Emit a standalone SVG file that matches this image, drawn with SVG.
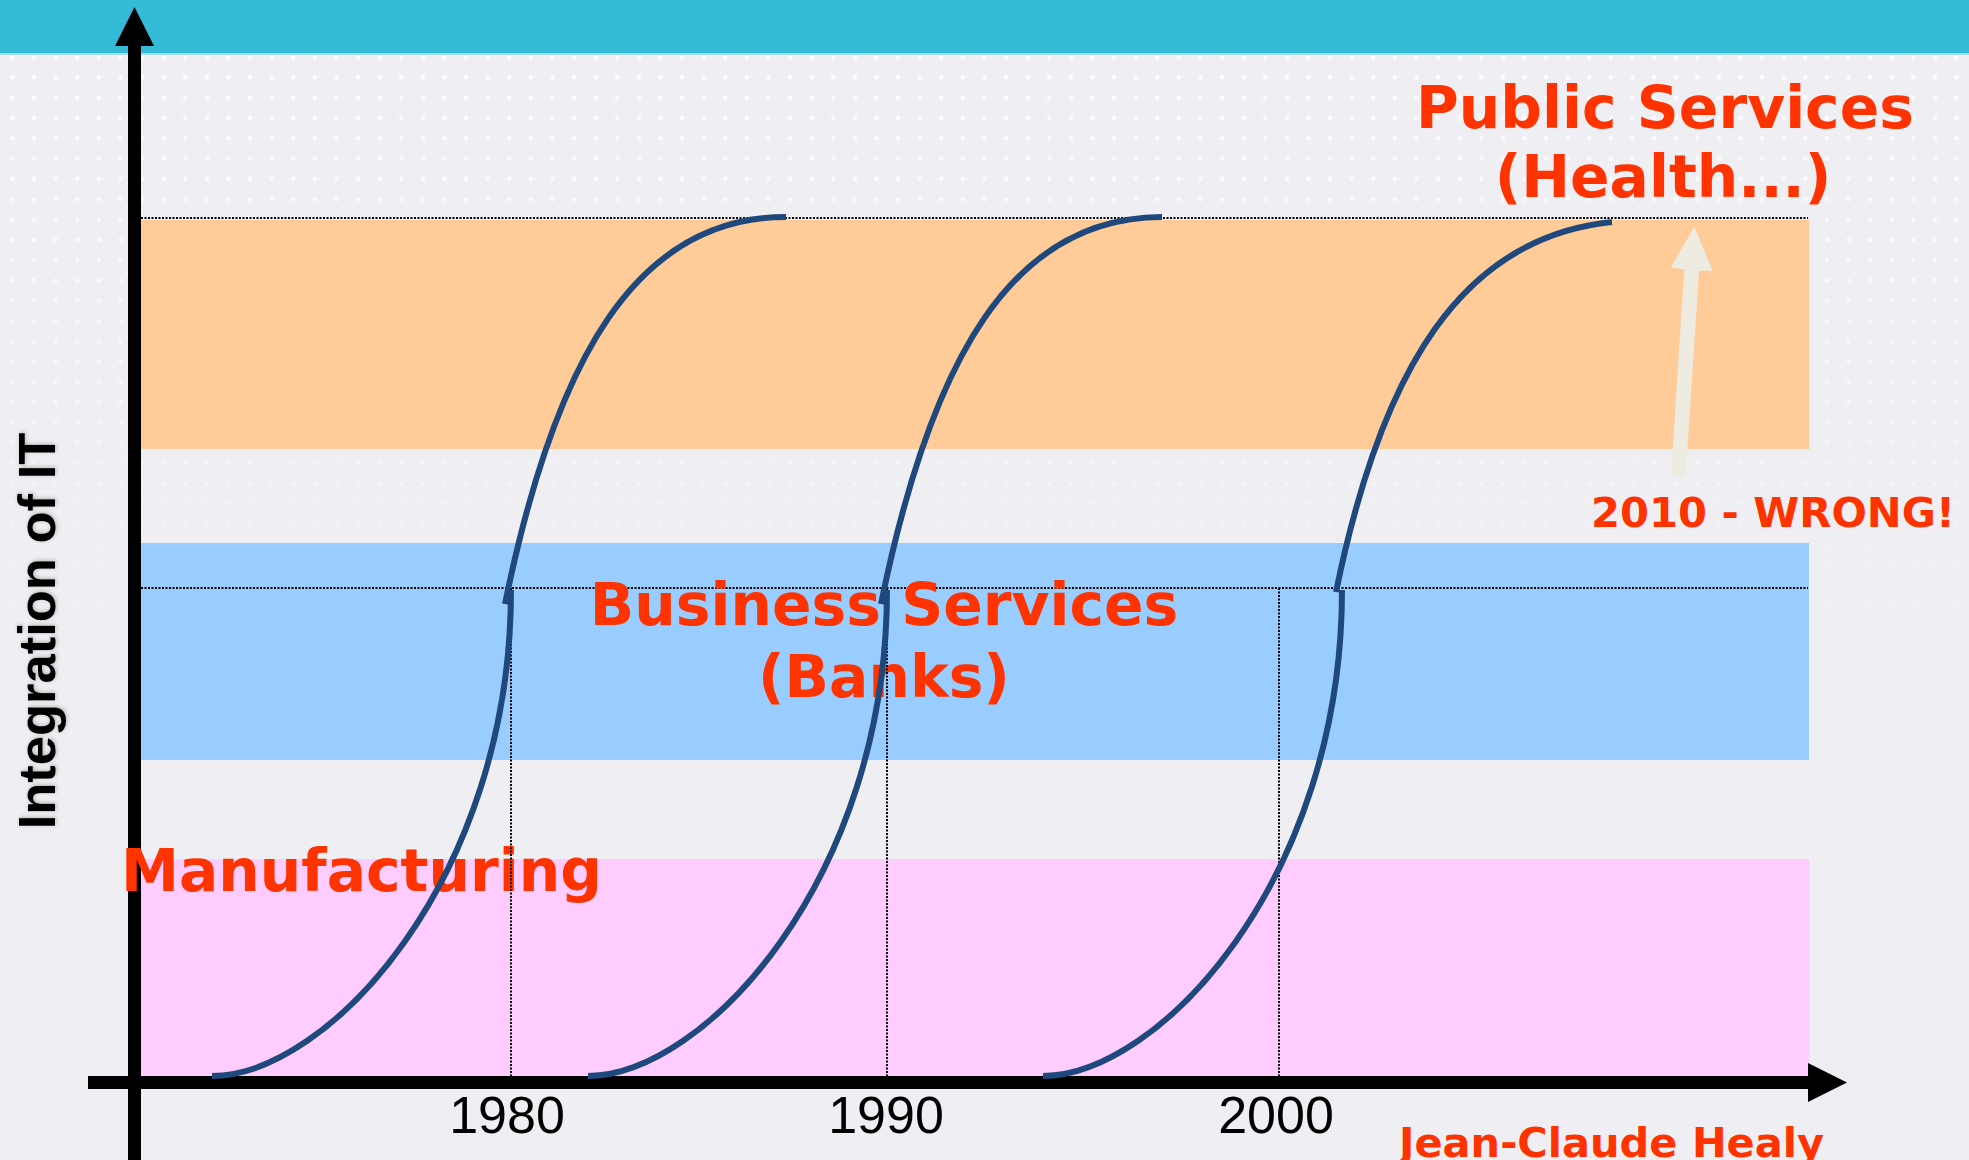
<svg xmlns="http://www.w3.org/2000/svg" width="1969" height="1160" viewBox="0 0 1969 1160">
<defs>
<style>
.lbl{font-family:"DejaVu Sans",Verdana,sans-serif;font-weight:bold;fill:#FF3300;}
.big{font-size:58.3px;}
.small{font-size:41.7px;}
.year{font-family:"Liberation Sans",Arial,sans-serif;font-size:52px;fill:#000;text-anchor:middle;}
.guide{stroke:#000;stroke-width:2;stroke-dasharray:2 1.5;fill:none;}
.scurve{stroke:#1F497D;stroke-width:6;fill:none;}
.axis{fill:#000;}
</style>
<pattern id="dots" x="1.7" y="47" width="21.6" height="20.3" patternUnits="userSpaceOnUse">
<circle cx="10.8" cy="10.15" r="2.3" fill="#ffffff"/>
</pattern>
<linearGradient id="fade" x1="0" y1="0" x2="0" y2="1">
<stop offset="0" stop-color="#fff" stop-opacity="0.85"/>
<stop offset="1" stop-color="#fff" stop-opacity="0"/>
</linearGradient>
<mask id="fadeMask" maskUnits="userSpaceOnUse" x="0" y="54" width="1969" height="700">
<rect x="0" y="54" width="1969" height="700" fill="url(#fade)"/>
</mask>
<filter id="shadow" x="-20%" y="-20%" width="140%" height="140%">
<feDropShadow dx="1" dy="1" stdDeviation="2" flood-color="#000" flood-opacity="0.25"/>
</filter>
<path id="lowerS" d="M212,1076 C327,1076 511,880 511,590"/>
<path id="upperS" d="M505,604 C555,359 636,217 786,217"/>
</defs>

<g id="background">
<rect x="0" y="0" width="1969" height="1160" fill="#EFEFF3"/>
<rect x="0" y="54" width="1969" height="700" fill="url(#dots)" mask="url(#fadeMask)"/>
<rect x="0" y="0" width="1969" height="53" fill="#34BBD8"/>
<rect x="0" y="53" width="1969" height="2" fill="#A8DDEB"/>
</g>

<g id="bands">
<rect id="band-public" x="135" y="220" width="1674" height="229" fill="#FFCC99"/>
<rect id="band-business" x="135" y="543" width="1674" height="217" fill="#99CCFF"/>
<rect id="band-manufacturing" x="135" y="859" width="1674" height="217" fill="#FFCCFF"/>
</g>

<g id="guides-h">
<line class="guide" x1="141" y1="218" x2="1808" y2="218"/>
<line class="guide" x1="141" y1="588" x2="1808" y2="588"/>
</g>

<g id="axes">
<rect class="axis" x="128" y="45" width="13" height="1115"/>
<polygon class="axis" points="134.5,7 115,46 154,46"/>
<rect class="axis" x="88" y="1076" width="1721" height="13"/>
<polygon class="axis" points="1808,1063 1847,1082.5 1808,1102"/>
</g>

<g id="y-axis-label">
<text transform="translate(55,631) rotate(-90)" text-anchor="middle" font-family="'Liberation Sans',Arial,sans-serif" font-weight="bold" font-size="52.5" fill="#000" filter="url(#shadow)">Integration of IT</text>
</g>

<g id="node-public">
<text class="lbl big" x="1665" y="128" text-anchor="middle">Public Services</text>
<text class="lbl big" x="1663" y="197" text-anchor="middle">(Health...)</text>
</g>

<g id="node-business">
<text class="lbl big" x="884" y="625" text-anchor="middle">Business Services</text>
<text class="lbl big" x="884" y="697" text-anchor="middle">(Banks)</text>
</g>

<g id="node-manufacturing">
<text class="lbl big" x="121" y="891">Manufacturing</text>
</g>

<g id="node-wrong">
<text class="lbl small" x="1591" y="527">2010 - WRONG!</text>
</g>

<g id="node-author">
<text class="lbl" x="1399" y="1157" font-size="41.5">Jean-Claude Healy</text>
</g>

<g id="year-labels">
<text class="year" x="507" y="1133">1980</text>
<text class="year" x="886" y="1133">1990</text>
<text class="year" x="1276" y="1133">2000</text>
</g>

<g id="connectors">
<line class="guide" x1="511" y1="588" x2="511" y2="1076"/>
<line class="guide" x1="887" y1="588" x2="887" y2="1076"/>
<line class="guide" x1="1279" y1="588" x2="1279" y2="1076"/>

<g id="curve-1980">
<use href="#lowerS" class="scurve"/>
<use href="#upperS" class="scurve"/>
</g>
<g id="curve-1990" transform="translate(376,0)">
<use href="#lowerS" class="scurve"/>
<use href="#upperS" class="scurve"/>
</g>
<g id="curve-2000">
<use href="#lowerS" class="scurve" transform="translate(831,0)"/>
<path class="scurve" d="M1336,592 C1382,366.6 1463.5,237 1612,222"/>
</g>

<polygon id="arrow-2010" points="1694.3,226.7 1712.7,270.7 1699,270.7 1685.7,476.7 1671,476 1684.3,269.3 1670.7,267.7" fill="#EEEBE1"/>
</g>
</svg>
